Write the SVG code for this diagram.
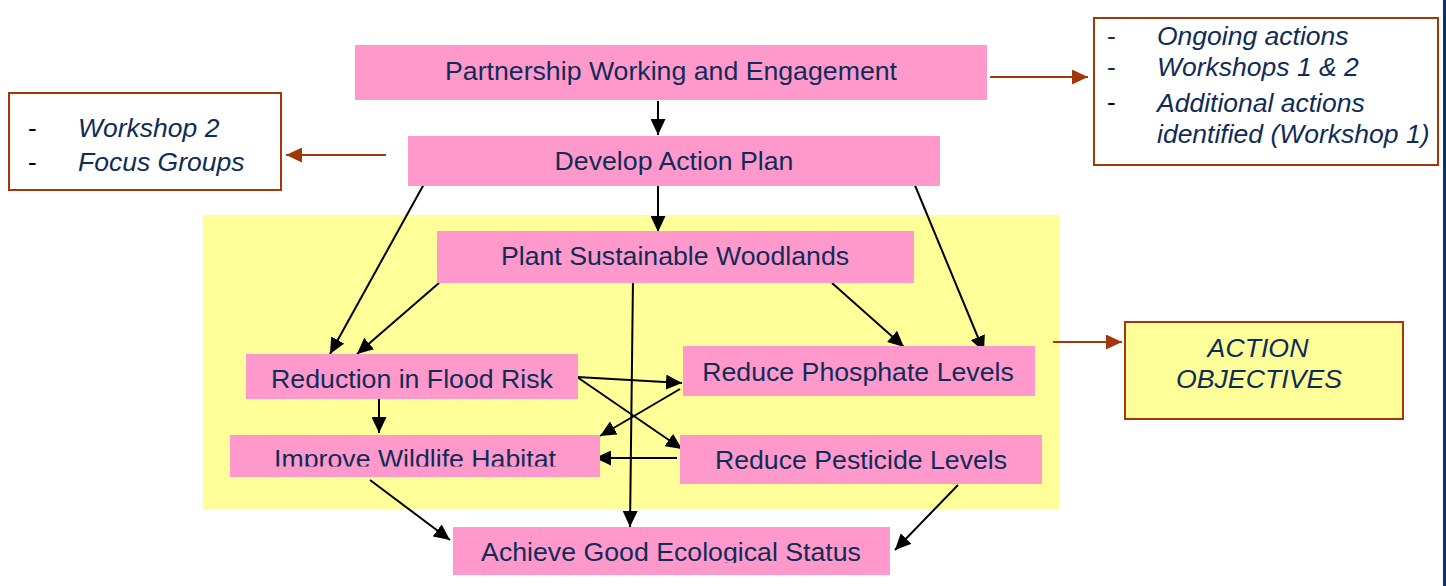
<svg xmlns="http://www.w3.org/2000/svg" width="1446" height="586" viewBox="0 0 1446 586">
  <style>
    .node { fill: #ff99cc; }
    .label { font-family: "Liberation Sans", Arial, sans-serif; font-size: 26.7px; fill: #0f2c57; text-anchor: middle; }
    .note { font-family: "Liberation Sans", Arial, sans-serif; font-size: 26.5px; fill: #0f2c57; font-style: italic; }
    .dash { font-family: "Liberation Sans", Arial, sans-serif; font-size: 26px; fill: #000; }
    .notebox { fill: #ffffff; stroke: #a0380c; stroke-width: 2; }
    .link { stroke: #000; stroke-width: 2; fill: none; marker-end: url(#arrow); }
    .side { stroke: #a0380c; stroke-width: 2; fill: none; marker-end: url(#arrowBrown); }
  </style>
  <defs>
    <marker id="arrow" markerUnits="userSpaceOnUse" markerWidth="17" markerHeight="15" refX="16" refY="7.5" orient="auto">
      <path d="M0,0 L16,7.5 L0,15 z" fill="#000"/>
    </marker>
    <marker id="arrowBrown" markerUnits="userSpaceOnUse" markerWidth="17" markerHeight="15" refX="16" refY="7.5" orient="auto">
      <path d="M0,0 L16,7.5 L0,15 z" fill="#a0380c"/>
    </marker>
    <clipPath id="clipImprove"><rect x="230" y="435" width="370" height="31.5"/></clipPath>
    <clipPath id="clipAchieve"><rect x="453" y="527" width="437" height="36"/></clipPath>
  </defs>

  <rect x="0" y="0" width="1446" height="586" fill="#ffffff"/>
  <!-- right edge rule -->
  <rect x="1443" y="0" width="3" height="586" fill="#0a3366"/>

  <!-- objectives panel -->
  <rect x="203" y="215" width="856" height="294" fill="#ffff99"/>

  <g id="connectors">
    <line class="link" x1="658" y1="101" x2="658" y2="135"/>
    <line class="link" x1="658" y1="186" x2="658" y2="232"/>
    <line class="link" x1="424" y1="184" x2="330" y2="354"/>
    <line class="link" x1="439" y1="283" x2="357" y2="354"/>
    <line class="link" x1="914" y1="183" x2="984" y2="352"/>
    <line class="link" x1="832" y1="283" x2="904" y2="347"/>
    <line class="link" x1="633" y1="279" x2="630" y2="527"/>
    <line class="link" x1="577" y1="377" x2="682" y2="383"/>
    <line class="link" x1="577" y1="377" x2="682" y2="449"/>
    <line class="link" x1="680" y1="389" x2="600" y2="436"/>
    <line class="link" x1="677" y1="458" x2="595" y2="458"/>
    <line class="link" x1="379" y1="395" x2="379" y2="433"/>
    <line class="link" x1="370" y1="480" x2="450" y2="540"/>
    <line class="link" x1="958" y1="485" x2="895" y2="550"/>
    <line class="side" x1="990" y1="77" x2="1088" y2="77"/>
    <line class="side" x1="386" y1="155" x2="286" y2="155"/>
    <line class="side" x1="1053" y1="342" x2="1122" y2="342"/>
  </g>

  <g id="partnership">
    <rect class="node" x="355" y="45" width="632" height="55"/>
    <text class="label" x="671" y="80">Partnership Working and Engagement</text>
  </g>
  <g id="develop">
    <rect class="node" x="408" y="136" width="532" height="50"/>
    <text class="label" x="674" y="170">Develop Action Plan</text>
  </g>
  <g id="woodlands">
    <rect class="node" x="437" y="231" width="477" height="52"/>
    <text class="label" x="675" y="265">Plant Sustainable Woodlands</text>
  </g>
  <g id="flood">
    <rect class="node" x="246" y="354" width="332" height="45"/>
    <text class="label" x="412" y="388">Reduction in Flood Risk</text>
  </g>
  <g id="phosphate">
    <rect class="node" x="683" y="346" width="352" height="50"/>
    <text class="label" x="858" y="381">Reduce Phosphate Levels</text>
  </g>
  <g id="wildlife">
    <rect class="node" x="230" y="435" width="370" height="42"/>
    <text class="label" x="415" y="468" clip-path="url(#clipImprove)">Improve Wildlife Habitat</text>
  </g>
  <g id="pesticide">
    <rect class="node" x="680" y="435" width="362" height="49"/>
    <text class="label" x="861" y="469">Reduce Pesticide Levels</text>
  </g>
  <g id="ecological">
    <rect class="node" x="453" y="527" width="437" height="48"/>
    <text class="label" x="671" y="561" clip-path="url(#clipAchieve)">Achieve Good Ecological Status</text>
  </g>

  <g id="notes-left">
    <rect class="notebox" x="9" y="93" width="272" height="97"/>
    <text class="dash" x="28" y="137">-</text>
    <text class="note" x="78" y="137">Workshop 2</text>
    <text class="dash" x="28" y="171">-</text>
    <text class="note" x="78" y="171">Focus Groups</text>
  </g>

  <g id="notes-right">
    <rect class="notebox" x="1094" y="18" width="344" height="147"/>
    <text class="note" x="1107" y="45" style="font-style:normal">-</text>
    <text class="note" x="1157" y="45">Ongoing actions</text>
    <text class="note" x="1107" y="76" style="font-style:normal">-</text>
    <text class="note" x="1157" y="76">Workshops 1 &amp; 2</text>
    <text class="dash" x="1107" y="111">-</text>
    <text class="note" x="1157" y="112">Additional actions</text>
    <text class="note" x="1157" y="143">identified (Workshop 1)</text>
  </g>

  <g id="objectives">
    <rect x="1125" y="322" width="278" height="97" fill="#ffff99" stroke="#a0380c" stroke-width="2"/>
    <text class="label" x="1258" y="357" font-style="italic">ACTION</text>
    <text class="label" x="1259" y="388" font-style="italic">OBJECTIVES</text>
  </g>
</svg>
